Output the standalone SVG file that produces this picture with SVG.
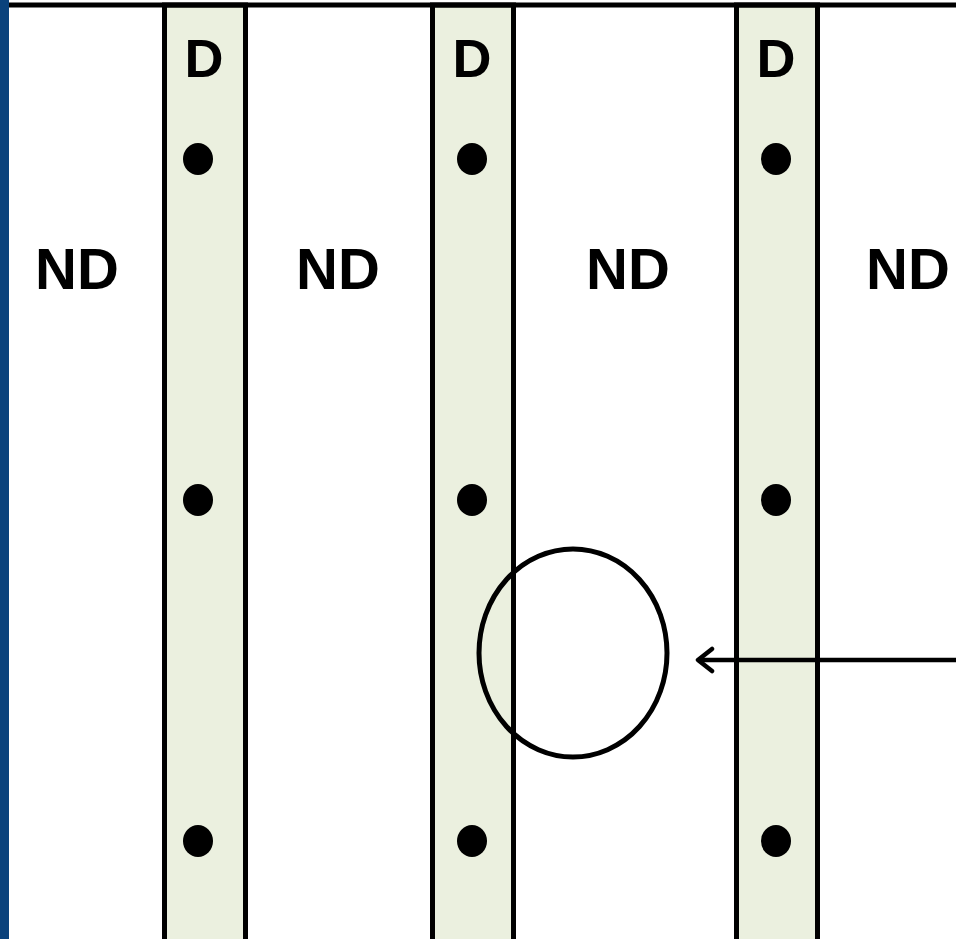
<svg xmlns="http://www.w3.org/2000/svg" width="956" height="939" viewBox="0 0 956 939">
<style>
.strip{fill:#ebf0df;stroke:#000;stroke-width:5}
.dot{fill:#000}
.lbl{font-family:"Liberation Sans",Arial,sans-serif;font-weight:700;fill:#000;text-anchor:middle}
.d{font-size:54px}
.nd{font-size:58px}
</style>
<defs>
<marker id="arr" viewBox="0 0 24 28" refX="19" refY="14" markerWidth="24" markerHeight="28" markerUnits="userSpaceOnUse" orient="auto">
<path d="M5,3 L19,14 L5,25" fill="none" stroke="#000" stroke-width="4.5" stroke-linecap="round" stroke-linejoin="round"/>
</marker>
</defs>
<rect x="0" y="0" width="956" height="939" fill="#fff"/>
<rect x="0" y="0" width="9" height="939" fill="#0a427c"/>
<g id="strip1"><rect class="strip" x="164.5" y="5" width="81" height="940"/></g>
<g id="strip2"><rect class="strip" x="432.5" y="5" width="81" height="940"/></g>
<g id="strip3"><rect class="strip" x="736.5" y="5" width="81" height="940"/></g>
<line x1="9" y1="5" x2="956" y2="5" stroke="#000" stroke-width="5"/>
<g id="labels">
<text class="lbl d" x="204" y="77">D</text>
<text class="lbl d" x="472" y="77">D</text>
<text class="lbl d" x="776" y="77">D</text>
<text class="lbl nd" x="77" y="289">ND</text>
<text class="lbl nd" x="338" y="289">ND</text>
<text class="lbl nd" x="628" y="289">ND</text>
<text class="lbl nd" x="908" y="289">ND</text>
</g>
<g id="dots">
<ellipse class="dot" cx="198" cy="159" rx="15" ry="16"/>
<ellipse class="dot" cx="198" cy="500" rx="15" ry="16"/>
<ellipse class="dot" cx="198" cy="841" rx="15" ry="16"/>
<ellipse class="dot" cx="472" cy="159" rx="15" ry="16"/>
<ellipse class="dot" cx="472" cy="500" rx="15" ry="16"/>
<ellipse class="dot" cx="472" cy="841" rx="15" ry="16"/>
<ellipse class="dot" cx="776" cy="159" rx="15" ry="16"/>
<ellipse class="dot" cx="776" cy="500" rx="15" ry="16"/>
<ellipse class="dot" cx="776" cy="841" rx="15" ry="16"/>
</g>
<g id="circle"><ellipse cx="573" cy="653" rx="94" ry="104" fill="none" stroke="#000" stroke-width="5"/></g>
<g id="connectors">
<line x1="956" y1="660" x2="698" y2="660" stroke="#000" stroke-width="4.5" marker-end="url(#arr)"/>
</g>
</svg>
